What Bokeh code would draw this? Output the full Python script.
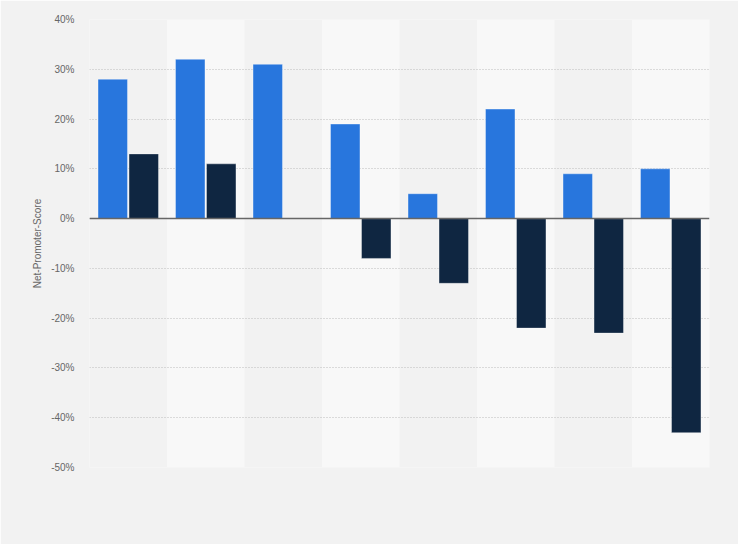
from bokeh.plotting import figure
from bokeh.models import FactorRange, Range1d, FixedTicker, PrintfTickFormatter, Span
from bokeh.transform import dodge
from bokeh.embed import file_html
from bokeh.resources import INLINE

categories = ["A", "B", "C", "D", "E", "F", "G", "H"]
series_1 = [28, 32, 31, 19, 5, 22, 9, 10]
series_2 = [13, 11, None, -8, -13, -22, -23, -43]
y_ticks = [-50, -40, -30, -20, -10, 0, 10, 20, 30, 40]
y_label = "Net-Promoter-Score"

BG = "#f2f2f2"
BAND = "#f8f8f8"
BLUE = "#2876dd"
NAVY = "#0f2641"

ymin, ymax = min(y_ticks), max(y_ticks)

p = figure(
    width=738, height=544,
    x_range=FactorRange(*categories, range_padding=0),
    y_range=Range1d(ymin, ymax),
    output_backend="svg", toolbar_location=None,
    min_border_left=89, min_border_right=29, min_border_top=19, min_border_bottom=77,
)
p.background_fill_color = BG
p.border_fill_color = BG
p.outline_line_color = None

# alternating light bands
p.vbar(x=categories[1::2], width=1, bottom=ymin, top=ymax,
       fill_color=BAND, line_color=None, level="underlay")

s2_cats = [c for c, v in zip(categories, series_2) if v is not None]
s2_vals = [v for v in series_2 if v is not None]

p.vbar(x=dodge("x", -0.2, range=p.x_range), top="top", bottom=0, width=0.38,
       source=dict(x=categories, top=series_1),
       fill_color=BLUE, line_color="white", line_alpha=0.35, line_width=1)
p.vbar(x=dodge("x", 0.2, range=p.x_range), top="top", bottom=0, width=0.38,
       source=dict(x=s2_cats, top=s2_vals),
       fill_color=NAVY, line_color="white", line_alpha=0.35, line_width=1)

p.add_layout(Span(location=0, dimension="width", line_color="#666666", line_width=1.5))

p.xaxis.visible = False
p.xgrid.grid_line_color = None

p.yaxis.ticker = FixedTicker(ticks=y_ticks)
p.yaxis.formatter = PrintfTickFormatter(format="%d%%")
p.yaxis.axis_line_color = None
p.yaxis.major_tick_line_color = None
p.yaxis.major_tick_out = 0
p.yaxis.major_tick_in = 0
p.yaxis.minor_tick_line_color = None
p.yaxis.minor_tick_out = 0
p.yaxis.major_label_text_font = "Liberation Sans"
p.yaxis.major_label_text_font_size = "10px"
p.yaxis.major_label_text_color = "#666666"
p.yaxis.major_label_standoff = 15
p.yaxis.axis_label = y_label
p.yaxis.axis_label_text_font = "Liberation Sans"
p.yaxis.axis_label_text_font_size = "10px"
p.yaxis.axis_label_text_font_style = "normal"
p.yaxis.axis_label_text_color = "#666666"
p.yaxis.axis_label_standoff = 5

p.ygrid.grid_line_color = "#bdbdbd"
p.ygrid.grid_line_dash = "1 2"
p.ygrid.grid_line_width = 1

open("out.html", "w").write(file_html(p, INLINE))
